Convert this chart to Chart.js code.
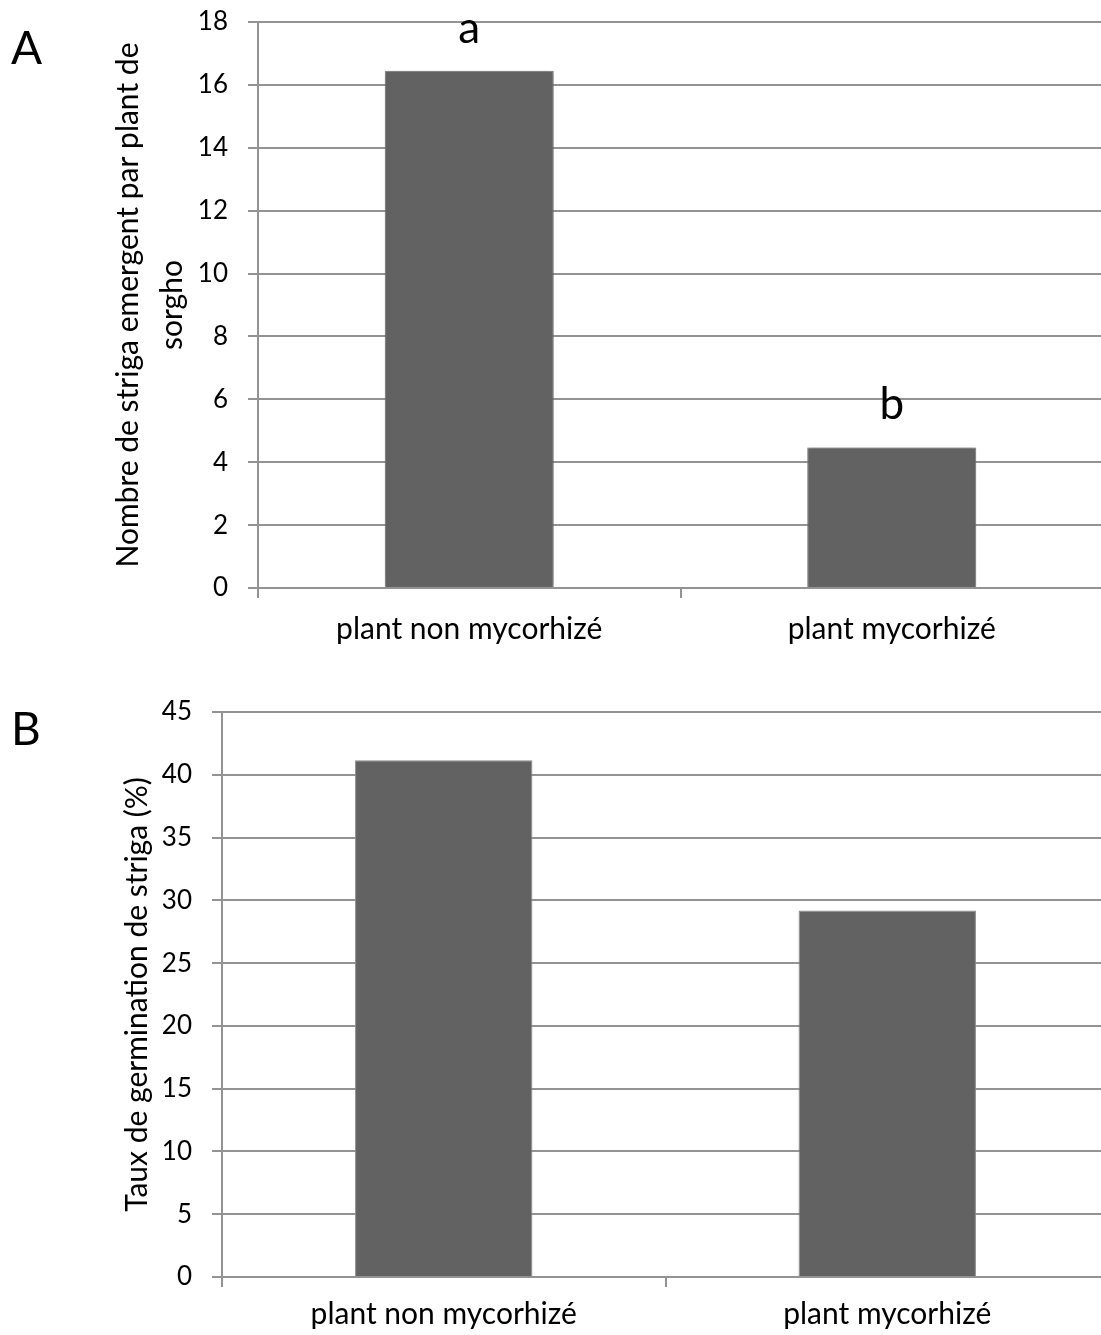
<!DOCTYPE html>
<html>
<head>
<meta charset="utf-8">
<script src="https://cdn.jsdelivr.net/npm/chart.js@4.4.0/dist/chart.umd.min.js"></script>
<style>
  html, body { margin: 0; padding: 0; background: #fff; overflow: hidden; }
  body { width: 1101px; height: 1335px; position: relative; }
  .panel { position: absolute; left: 0; }
  #panel-a { top: 0; width: 1103px; height: 660px; }
  #panel-b { top: 660px; width: 1109px; height: 675px; }
</style>
</head>
<body>
<div class="panel" id="panel-a"><canvas id="chartA"></canvas></div>
<div class="panel" id="panel-b"><canvas id="chartB"></canvas></div>
<script>
// --- Data ---
const categories = ['plant non mycorhizé', 'plant mycorhizé'];
const emergedStriga = [16.45, 4.47];          // panel A
const emergedLetters = ['a', 'b'];            // significance letters
const germinationRate = [41.15, 29.2];        // panel B (%)
const yTitleA = ['Nombre de striga emergent par plant de', 'sorgho'];
const yTitleB = 'Taux de germination de striga (%)';

// --- Style ---
const FONT = 'Lato';
const GRID = '#939393';
const BAR = '#626262';

Chart.defaults.font.family = FONT;
Chart.defaults.color = '#000';
Chart.defaults.animation = false;

// panel letter (A / B) drawn in the corner of each canvas
const panelLetter = {
    id: 'panelLetter',
    afterDraw(chart, args, opts) {
        const ctx = chart.ctx;
        ctx.save();
        ctx.font = '46px ' + FONT;
        ctx.fillStyle = '#000';
        ctx.textBaseline = 'alphabetic';
        ctx.fillText(opts.text, opts.x, opts.y);
        ctx.restore();
    }
};

// soft shadow round the bars of panel A
const barShadow = {
    id: 'barShadow',
    beforeDatasetsDraw(chart, args, opts) {
        if (!opts.on) return;
        chart.ctx.save();
        chart.ctx.shadowColor = 'rgba(0,0,0,0.35)';
        chart.ctx.shadowBlur = 5;
    },
    afterDatasetsDraw(chart, args, opts) {
        if (!opts.on) return;
        chart.ctx.restore();
    }
};

// letters above the bars
const barLetters = {
    id: 'barLetters',
    afterDatasetsDraw(chart, args, opts) {
        if (!opts.labels) return;
        const ctx = chart.ctx;
        const meta = chart.getDatasetMeta(0);
        ctx.save();
        ctx.font = '44px ' + FONT;
        ctx.fillStyle = '#000';
        ctx.textAlign = 'center';
        ctx.textBaseline = 'alphabetic';
        meta.data.forEach((bar, i) => {
            ctx.fillText(opts.labels[i], bar.x, bar.y - 28);
        });
        ctx.restore();
    }
};

function buildOptions(cfg) {
    return {
        responsive: true,
        maintainAspectRatio: false,
        layout: { padding: { top: cfg.padTop, right: 0, left: 0, bottom: 0 } },
        plugins: {
            legend: { display: false },
            tooltip: { enabled: false },
            panelLetter: cfg.letter,
            barShadow: { on: cfg.shadow },
            barLetters: { labels: cfg.barLabels }
        },
        scales: {
            x: {
                offset: true,
                grid: { display: true, drawOnChartArea: false, drawTicks: true, tickLength: 10, color: GRID, lineWidth: 2 },
                border: { display: true, color: GRID, width: 2 },
                ticks: { font: { size: 30 }, padding: cfg.xPad, color: '#000' },
                afterFit: s => { s.height = cfg.xHeight; }
            },
            y: {
                min: 0,
                max: cfg.max,
                ticks: { stepSize: cfg.step, font: { size: 26 }, padding: 20, color: '#000' },
                grid: { color: GRID, lineWidth: 2, tickLength: 10 },
                border: { display: true, color: GRID, width: 2 },
                title: {
                    display: true,
                    text: cfg.title,
                    font: { size: 30, lineHeight: cfg.titleLH },
                    color: '#000',
                    padding: { top: cfg.titlePad, bottom: 0 }
                },
                afterFit: s => {
                    s.width = cfg.yWidth;
                    s.paddingTop = 0;
                    s.paddingBottom = 0;
                }
            }
        }
    };
}

new Chart(document.getElementById('chartA'), {
    type: 'bar',
    data: {
        labels: categories,
        datasets: [{
            data: emergedStriga,
            backgroundColor: BAR,
            borderColor: '#8a8a8a',
            borderWidth: 1,
            barPercentage: 0.4,
            categoryPercentage: 1
        }]
    },
    options: buildOptions({
        padTop: 22, xHeight: 72, yWidth: 258, xPad: 13,
        max: 18, step: 2,
        title: yTitleA, titleLH: 44 / 30, titlePad: 106,
        letter: { text: 'A', x: 11, y: 64 },
        shadow: true,
        barLabels: emergedLetters
    }),
    plugins: [panelLetter, barShadow, barLetters]
});

new Chart(document.getElementById('chartB'), {
    type: 'bar',
    data: {
        labels: categories,
        datasets: [{
            data: germinationRate,
            backgroundColor: BAR,
            borderColor: '#8a8a8a',
            borderWidth: 1,
            barPercentage: 0.4,
            categoryPercentage: 1
        }]
    },
    options: buildOptions({
        padTop: 52, xHeight: 58, yWidth: 222, xPad: 9,
        max: 45, step: 5,
        title: yTitleB, titleLH: 1.2, titlePad: 119,
        letter: { text: 'B', x: 11, y: 85 },
        shadow: false,
        barLabels: null
    }),
    plugins: [panelLetter, barShadow, barLetters]
});
</script>
</body>
</html>
